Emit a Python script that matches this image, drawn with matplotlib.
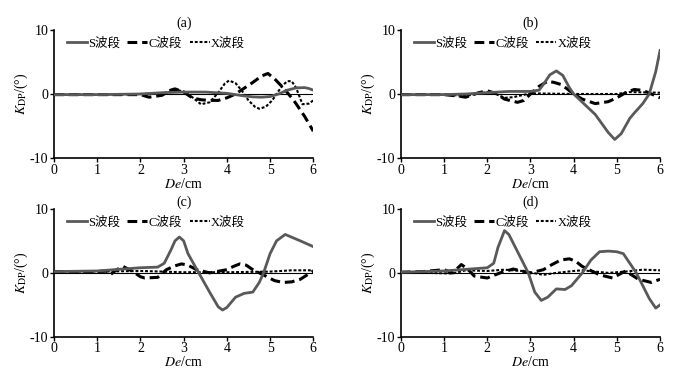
import numpy as np
import matplotlib
matplotlib.use("Agg")
from matplotlib import pyplot as plt

plt.rcParams['font.family'] = ['Liberation Serif', 'Noto Sans CJK SC']
plt.rcParams['mathtext.fontset'] = 'stix'
plt.rcParams['axes.unicode_minus'] = False

# ocitane vrijednosti (De u cm, K_DP u stupnjevima)
x_a_s = [0, 1, 2, 2.5, 3, 3.5, 4, 4.4, 4.6, 4.8, 5.0, 5.2, 5.4, 5.6, 5.8, 5.9, 6]
s_a = [-0.1, -0.1, 0, 0.2, 0.3, 0.3, 0.1, -0.3, -0.45, -0.5, -0.4, 0.0, 0.6, 0.95, 1.0, 0.85, 0.6]
x_a_c = [0, 1, 2, 2.2, 2.5, 2.7, 2.8, 3.0, 3.2, 3.4, 3.6, 3.8, 4.0, 4.2, 4.4, 4.6, 4.8, 4.95, 5.1, 5.3, 5.5, 5.6, 5.8, 6]
c_a = [-0.1, -0.1, -0.1, -0.5, -0.2, 0.6, 0.8, 0.3, -0.6, -0.9, -1.0, -1.0, -0.6, 0.0, 0.9, 1.8, 2.8, 3.2, 2.4, 1.0, -0.6, -1.5, -3.5, -5.8]
x_a_x = [0, 1, 2, 2.5, 2.7, 2.85, 3.0, 3.2, 3.4, 3.6, 3.8, 3.95, 4.05, 4.2, 4.35, 4.5, 4.65, 4.75, 4.9, 5.05, 5.2, 5.3, 5.4, 5.5, 5.6, 5.75, 5.9, 6]
x_a = [-0.1, -0.1, 0, 0.1, 0.4, 0.6, 0.4, -0.5, -1.6, -1.3, 0.2, 1.6, 2.1, 1.7, 0.5, -1.0, -2.0, -2.3, -2.0, -1.0, 0.5, 1.4, 2.0, 2.0, 1.0, -1.6, -1.5, -1.0]

x_b_s = [0, 1, 1.5, 2, 2.5, 3.0, 3.2, 3.3, 3.45, 3.6, 3.75, 3.9, 4.0, 4.5, 4.8, 4.95, 5.1, 5.3, 5.4, 5.6, 5.75, 5.9, 6]
s_b = [-0.1, -0.1, 0, 0.2, 0.4, 0.4, 0.6, 1.5, 3.0, 3.6, 2.9, 1.0, 0, -3.2, -6.0, -7.1, -6.2, -3.8, -3.0, -1.5, 0, 3.5, 6.8]
x_b_c = [0, 1, 1.3, 1.5, 1.8, 2.0, 2.2, 2.4, 2.7, 2.85, 3.0, 3.2, 3.4, 3.55, 3.7, 3.85, 4.0, 4.2, 4.5, 4.8, 5.0, 5.2, 5.4, 5.55, 5.7, 6]
c_b = [-0.1, -0.1, -0.3, -0.5, 0.2, 0.5, 0.1, -0.8, -1.3, -1.0, 0, 1.2, 2.0, 1.8, 1.5, 0.8, 0, -0.8, -1.5, -1.2, -0.6, 0.2, 0.7, 0.6, 0.3, -0.6]
x_b_x = [0, 1, 1.5, 2.0, 2.2, 2.4, 2.6, 2.8, 3.0, 4.0, 5.0, 5.3, 6]
x_b = [-0.1, -0.1, -0.3, 0.3, 0.0, -0.6, -0.5, -0.2, 0.1, 0, 0, 0.3, 0.2]

x_c_s = [0, 1, 2.0, 2.4, 2.55, 2.7, 2.8, 2.9, 3.0, 3.1, 3.35, 3.6, 3.8, 3.9, 4.0, 4.2, 4.4, 4.6, 4.75, 4.85, 5.0, 5.15, 5.35, 5.7, 6]
s_c = [0.2, 0.3, 0.8, 0.9, 1.5, 3.5, 5.0, 5.6, 5.0, 3.0, 0, -3.0, -5.3, -5.8, -5.4, -3.8, -3.2, -3.0, -1.5, 0, 3.0, 5.0, 6.0, 5.0, 4.1]
x_c_c = [0, 1, 1.2, 1.3, 1.45, 1.6, 1.8, 2.0, 2.1, 2.4, 2.6, 2.8, 2.95, 3.1, 3.3, 3.6, 4.0, 4.15, 4.3, 4.45, 4.6, 4.9, 5.1, 5.3, 5.5, 5.7, 6]
c_c = [0.2, 0.2, 0.3, -0.3, 0.5, 1.0, 0.3, -0.6, -0.8, -0.7, 0.5, 1.1, 1.4, 1.2, 0.5, 0, 0.5, 1.0, 1.4, 1.2, 0.5, -0.5, -1.2, -1.5, -1.4, -1.0, 0.3]
x_c_x = [0, 1, 2, 3, 4, 5, 5.5, 6]
x_c = [0.2, 0.2, 0.3, 0.1, 0.1, 0.2, 0.4, 0.4]

x_d_s = [0, 1, 2, 2.15, 2.25, 2.4, 2.5, 2.65, 2.95, 3.1, 3.25, 3.4, 3.6, 3.8, 3.95, 4.2, 4.4, 4.6, 4.8, 5.0, 5.15, 5.3, 5.45, 5.75, 5.9, 6]
s_d = [0.1, 0.3, 0.8, 1.5, 4.0, 6.6, 6.0, 4.0, 0, -3.0, -4.3, -3.8, -2.5, -2.6, -2.0, 0, 2.0, 3.3, 3.4, 3.3, 3.0, 1.5, 0, -4.0, -5.5, -5.0]
x_d_c = [0, 0.5, 1.0, 1.2, 1.4, 1.55, 1.7, 2.0, 2.3, 2.6, 3.0, 3.3, 3.5, 3.7, 3.9, 4.05, 4.2, 4.6, 4.9, 5.2, 5.5, 5.8, 6]
c_d = [0.1, 0.2, 0.5, 0, 1.3, 0.6, -0.5, -0.8, 0, 0.6, 0, 0.5, 1.3, 2.0, 2.2, 1.8, 1.0, -0.3, -0.8, 0.3, -1.0, -1.5, -1.0]
x_d_x = [0, 1.2, 1.5, 2.0, 2.4, 2.8, 3.3, 3.6, 4.0, 4.2, 4.8, 5.2, 5.6, 6]
x_d = [0.1, -0.1, 0.4, 0.3, 0.5, 0.3, -0.3, 0, 0.3, 0.4, 0, 0.2, 0.5, 0.4]

paneli = [
    ('(a)', (x_a_s, s_a), (x_a_c, c_a), (x_a_x, x_a)),
    ('(b)', (x_b_s, s_b), (x_b_c, c_b), (x_b_x, x_b)),
    ('(c)', (x_c_s, s_c), (x_c_c, c_c), (x_c_x, x_c)),
    ('(d)', (x_d_s, s_d), (x_d_c, c_d), (x_d_x, x_d)),
]
pozicije = [
    [0.079, 0.583, 0.379, 0.338],
    [0.586, 0.583, 0.379, 0.338],
    [0.079, 0.111, 0.379, 0.338],
    [0.586, 0.111, 0.379, 0.338],
]

fig = plt.figure(figsize=(6.84, 3.79), dpi=100)
for (naslov, s, c, x), poz in zip(paneli, pozicije):
    ax = fig.add_axes(poz)
    ax.axhline(0, color='black', lw=0.8, zorder=1)
    ax.plot(*s, color='#595959', lw=2.0, label='S波段', zorder=3)
    ax.plot(*c, color='black', lw=2.2, dashes=(3.2, 1.6), label='C波段', zorder=2)
    ax.plot(*x, color='black', lw=1.5, dashes=(1.4, 0.9), label='X波段', zorder=2)
    ax.set_xlim(0, 6)
    ax.set_ylim(-10, 10)
    ax.set_xticks(range(7))
    ax.set_yticks([-10, 0, 10])
    ax.spines['top'].set_visible(False)
    ax.spines['right'].set_visible(False)
    ax.spines['left'].set_linewidth(1.2)
    ax.spines['bottom'].set_linewidth(1.2)
    ax.tick_params(direction='out', length=3, width=1, labelsize=10, pad=1)
    ax.set_title(naslov, fontsize=10, pad=1)
    ax.set_xlabel('$\\mathit{De}$/cm', fontsize=10, labelpad=0)
    ax.set_ylabel('$\\mathit{K}_{\\mathrm{DP}}$/(°)', fontsize=10, labelpad=0)
    ax.legend(loc='upper left', ncol=3, frameon=False, fontsize=9,
              handlelength=1.6, handletextpad=0.1, columnspacing=0.6,
              borderaxespad=0.2, bbox_to_anchor=(0.02, 1.0))

plt.savefig('out.png', dpi=100)
